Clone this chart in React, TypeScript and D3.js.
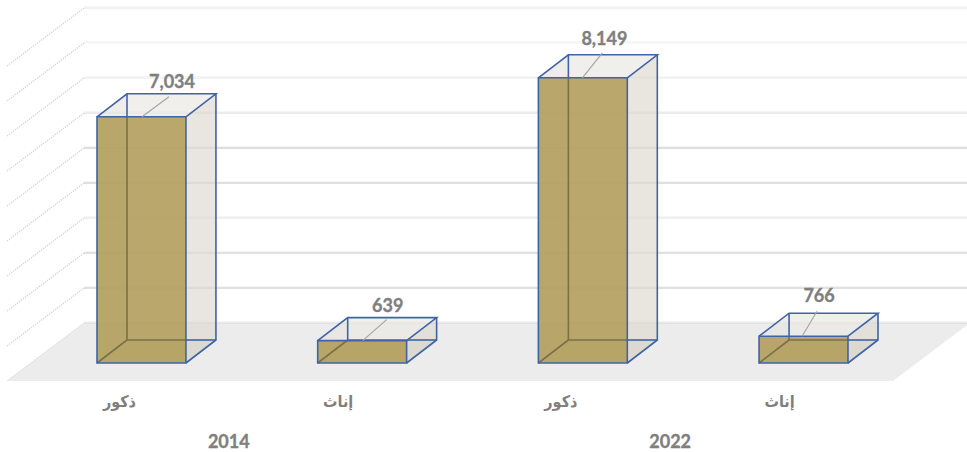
import React from "react";
import * as d3 from "d3";

// Values per bar, in chart order
const genders = ["ذكور", "إناث", "ذكور", "إناث"];
const values = [7034, 639, 8149, 766];
const valueLabels = ["7,034", "639", "8,149", "766"];
const years = ["2014", "2022"];
const gridTicks = [0, 1000, 2000, 3000, 4000, 5000, 6000, 7000, 8000, 9000];
// Gridline greys from the floor upward, as rasterised
const gridGreys = ["#d6d6d6", "#c2c2c2", "#c4c4c4", "#e0e0e0", "#c0c0c0", "#bdbdbd", "#d8d8d8", "#e6e6e6", "#efefef", "#e4e4e4"];

const W = 967;
const H = 452;

// Oblique projection: how far the back wall sits from the front plane
const floorDx = 77;
const floorDy = 58;
const wallLeft = 84;
const wallRight = 970;
const wallBase = 323;
const wallTop = 8;

// Bar depth and placement relative to the wall scale
const barDx = 30;
const barDy = 23;
const barFrontOffset = 40;

// Where each value label's leader runs, relative to the bar's front top edge
const leaders = [
  { from: 45, to: 72, rise: 20, labelDx: 75, labelDy: 29 },
  { from: 45, to: 69, rise: 21, labelDx: 70, labelDy: 29 },
  { from: 44, to: 64, rise: 25, labelDx: 66, labelDy: 33 },
  { from: 43, to: 58, rise: 25, labelDx: 60, labelDy: 34 },
];

const y = d3.scaleLinear().domain([0, 9000]).range([wallBase, wallTop]);
const x = d3
  .scaleBand<number>()
  .domain(d3.range(values.length))
  .range([97, 848])
  .paddingInner(0.597)
  .paddingOuter(0);

const path = d3.line<[number, number]>();
const closed = (pts: [number, number][]) => path(pts) + "Z";

const labelFont = "Lato, 'Open Sans', sans-serif";
const arabicFont = "'DejaVu Sans Condensed', 'DejaVu Sans', sans-serif";
const textGrey = "#7f7f7f";
const edge = "#3f64a6";
const hiddenEdge = "#7b7148";

function Bar({ i }: { i: number }) {
  const x0 = x(i) as number;
  const x1 = x0 + x.bandwidth();
  const bottom = y(0) + barFrontOffset;
  const top = y(values[i]) + barFrontOffset;
  const bx0 = x0 + barDx;
  const bx1 = x1 + barDx;
  const bBottom = bottom - barDy;
  const bTop = top - barDy;
  const l = leaders[i];
  const edgeProps = { fill: "none", stroke: edge, strokeWidth: 1.6 };
  return (
    <g>
      {/* far faces */}
      <path d={closed([[bx0, bTop], [bx1, bTop], [bx1, bBottom], [bx0, bBottom]])} fill="#e8e6dd" fillOpacity={0.3} />
      <path d={closed([[x0, top], [bx0, bTop], [bx0, bBottom], [x0, bottom]])} fill="#d8d5c9" fillOpacity={0.3} />
      <path d={closed([[x0, bottom], [x1, bottom], [bx1, bBottom], [bx0, bBottom]])} fill="#bdb9ab" fillOpacity={0.3} />
      {/* near side and lid */}
      <path d={closed([[x1, top], [bx1, bTop], [bx1, bBottom], [x1, bottom]])} fill="#dad6ca" fillOpacity={0.5} />
      <path d={closed([[x0, top], [x1, top], [bx1, bTop], [bx0, bTop]])} fill="#ebe9e3" fillOpacity={0.55} />
      {/* back edges, blue where they clear the front face */}
      <path d={path([[bx0, bTop], [bx0, Math.min(top, bBottom)]])!} {...edgeProps} />
      <path d={path([[x1, bBottom], [bx1, bBottom]])!} {...edgeProps} />
      <path d={closed([[x0, top], [x1, top], [x1, bottom], [x0, bottom]])} fill="#b3a05e" fillOpacity={0.92} />
      {/* back edges seen through the front face */}
      <path
        d={path([[bx0, Math.min(top, bBottom)], [bx0, bBottom], [x0, bottom]])!}
        fill="none"
        stroke={hiddenEdge}
        strokeWidth={1.6}
      />
      <path d={path([[bx0, bBottom], [x1, bBottom]])!} fill="none" stroke={hiddenEdge} strokeWidth={1.6} />
      {/* near edges */}
      <path d={closed([[x0, top], [x1, top], [x1, bottom], [x0, bottom]])} {...edgeProps} />
      <path d={path([[x0, top], [bx0, bTop], [bx1, bTop], [x1, top]])!} {...edgeProps} />
      <path d={path([[bx1, bTop], [bx1, bBottom], [x1, bottom]])!} {...edgeProps} />
      {/* leader and value */}
      <path
        d={path([[x0 + l.from, top], [x0 + l.to, top - l.rise]])!}
        stroke="#a6a6a6"
        strokeWidth={1.2}
        fill="none"
      />
      <text
        x={x0 + l.labelDx}
        y={top - l.labelDy}
        textAnchor="middle"
        fontFamily={labelFont}
        fontWeight={700}
        fontSize={18}
        fill={textGrey}
        stroke={textGrey}
        strokeWidth={0.35}
      >
        {valueLabels[i]}
      </text>
      {/* gender category */}
      <text
        x={(x0 + x1) / 2 + (i % 2 === 0 ? -22 : -24)}
        y={407}
        textAnchor="middle"
        direction="rtl"
        fontFamily={arabicFont}
        fontWeight={700}
        fontSize={16}
        fill={textGrey}
      >
        {genders[i]}
      </text>
    </g>
  );
}

export default function App() {
  const floor: [number, number][] = [
    [wallLeft, wallBase],
    [wallRight, wallBase],
    [wallRight - floorDx, wallBase + floorDy],
    [wallLeft - floorDx, wallBase + floorDy],
  ];
  return (
    <svg
      width={W}
      height={H}
      viewBox={`0 0 ${W} ${H}`}
      style={{ position: "absolute", left: 0, top: 0, background: "#fff" }}
    >
      <path d={closed(floor)} fill="#ececec" />
      {gridTicks.map((t, k) => (
        <g key={t} fill="none">
          <path
            d={path([[wallLeft, y(t) - 1.5], [wallRight, y(t) - 1.5]])!}
            stroke="#f5f5f5"
            strokeWidth={1}
          />
          <path
            d={path([[wallLeft, y(t)], [wallRight, y(t)]])!}
            stroke={gridGreys[k]}
            strokeWidth={1}
          />
          {t > 0 && (
            <path
              d={path([[wallLeft, y(t)], [wallLeft - floorDx, y(t) + floorDy]])!}
              stroke="#d6d6d6"
              strokeWidth={1.3}
              strokeDasharray="1.5 1"
            />
          )}
        </g>
      ))}
      <path
        d={path([[wallLeft, y(0)], [wallLeft - floorDx, y(0) + floorDy]])!}
        stroke="#e2e2e2"
        strokeWidth={1}
        fill="none"
      />
      {values.map((_, i) => (
        <Bar key={i} i={i} />
      ))}
      {years.map((yr, k) => {
        const a = x(k * 2) as number;
        const b = (x(k * 2 + 1) as number) + x.bandwidth();
        return (
          <text
            key={yr}
            x={(a + b) / 2 - 23}
            y={448}
            textAnchor="middle"
            fontFamily={labelFont}
            fontWeight={700}
            fontSize={18}
            fill={textGrey}
            stroke={textGrey}
            strokeWidth={0.35}
          >
            {yr}
          </text>
        );
      })}
    </svg>
  );
}
